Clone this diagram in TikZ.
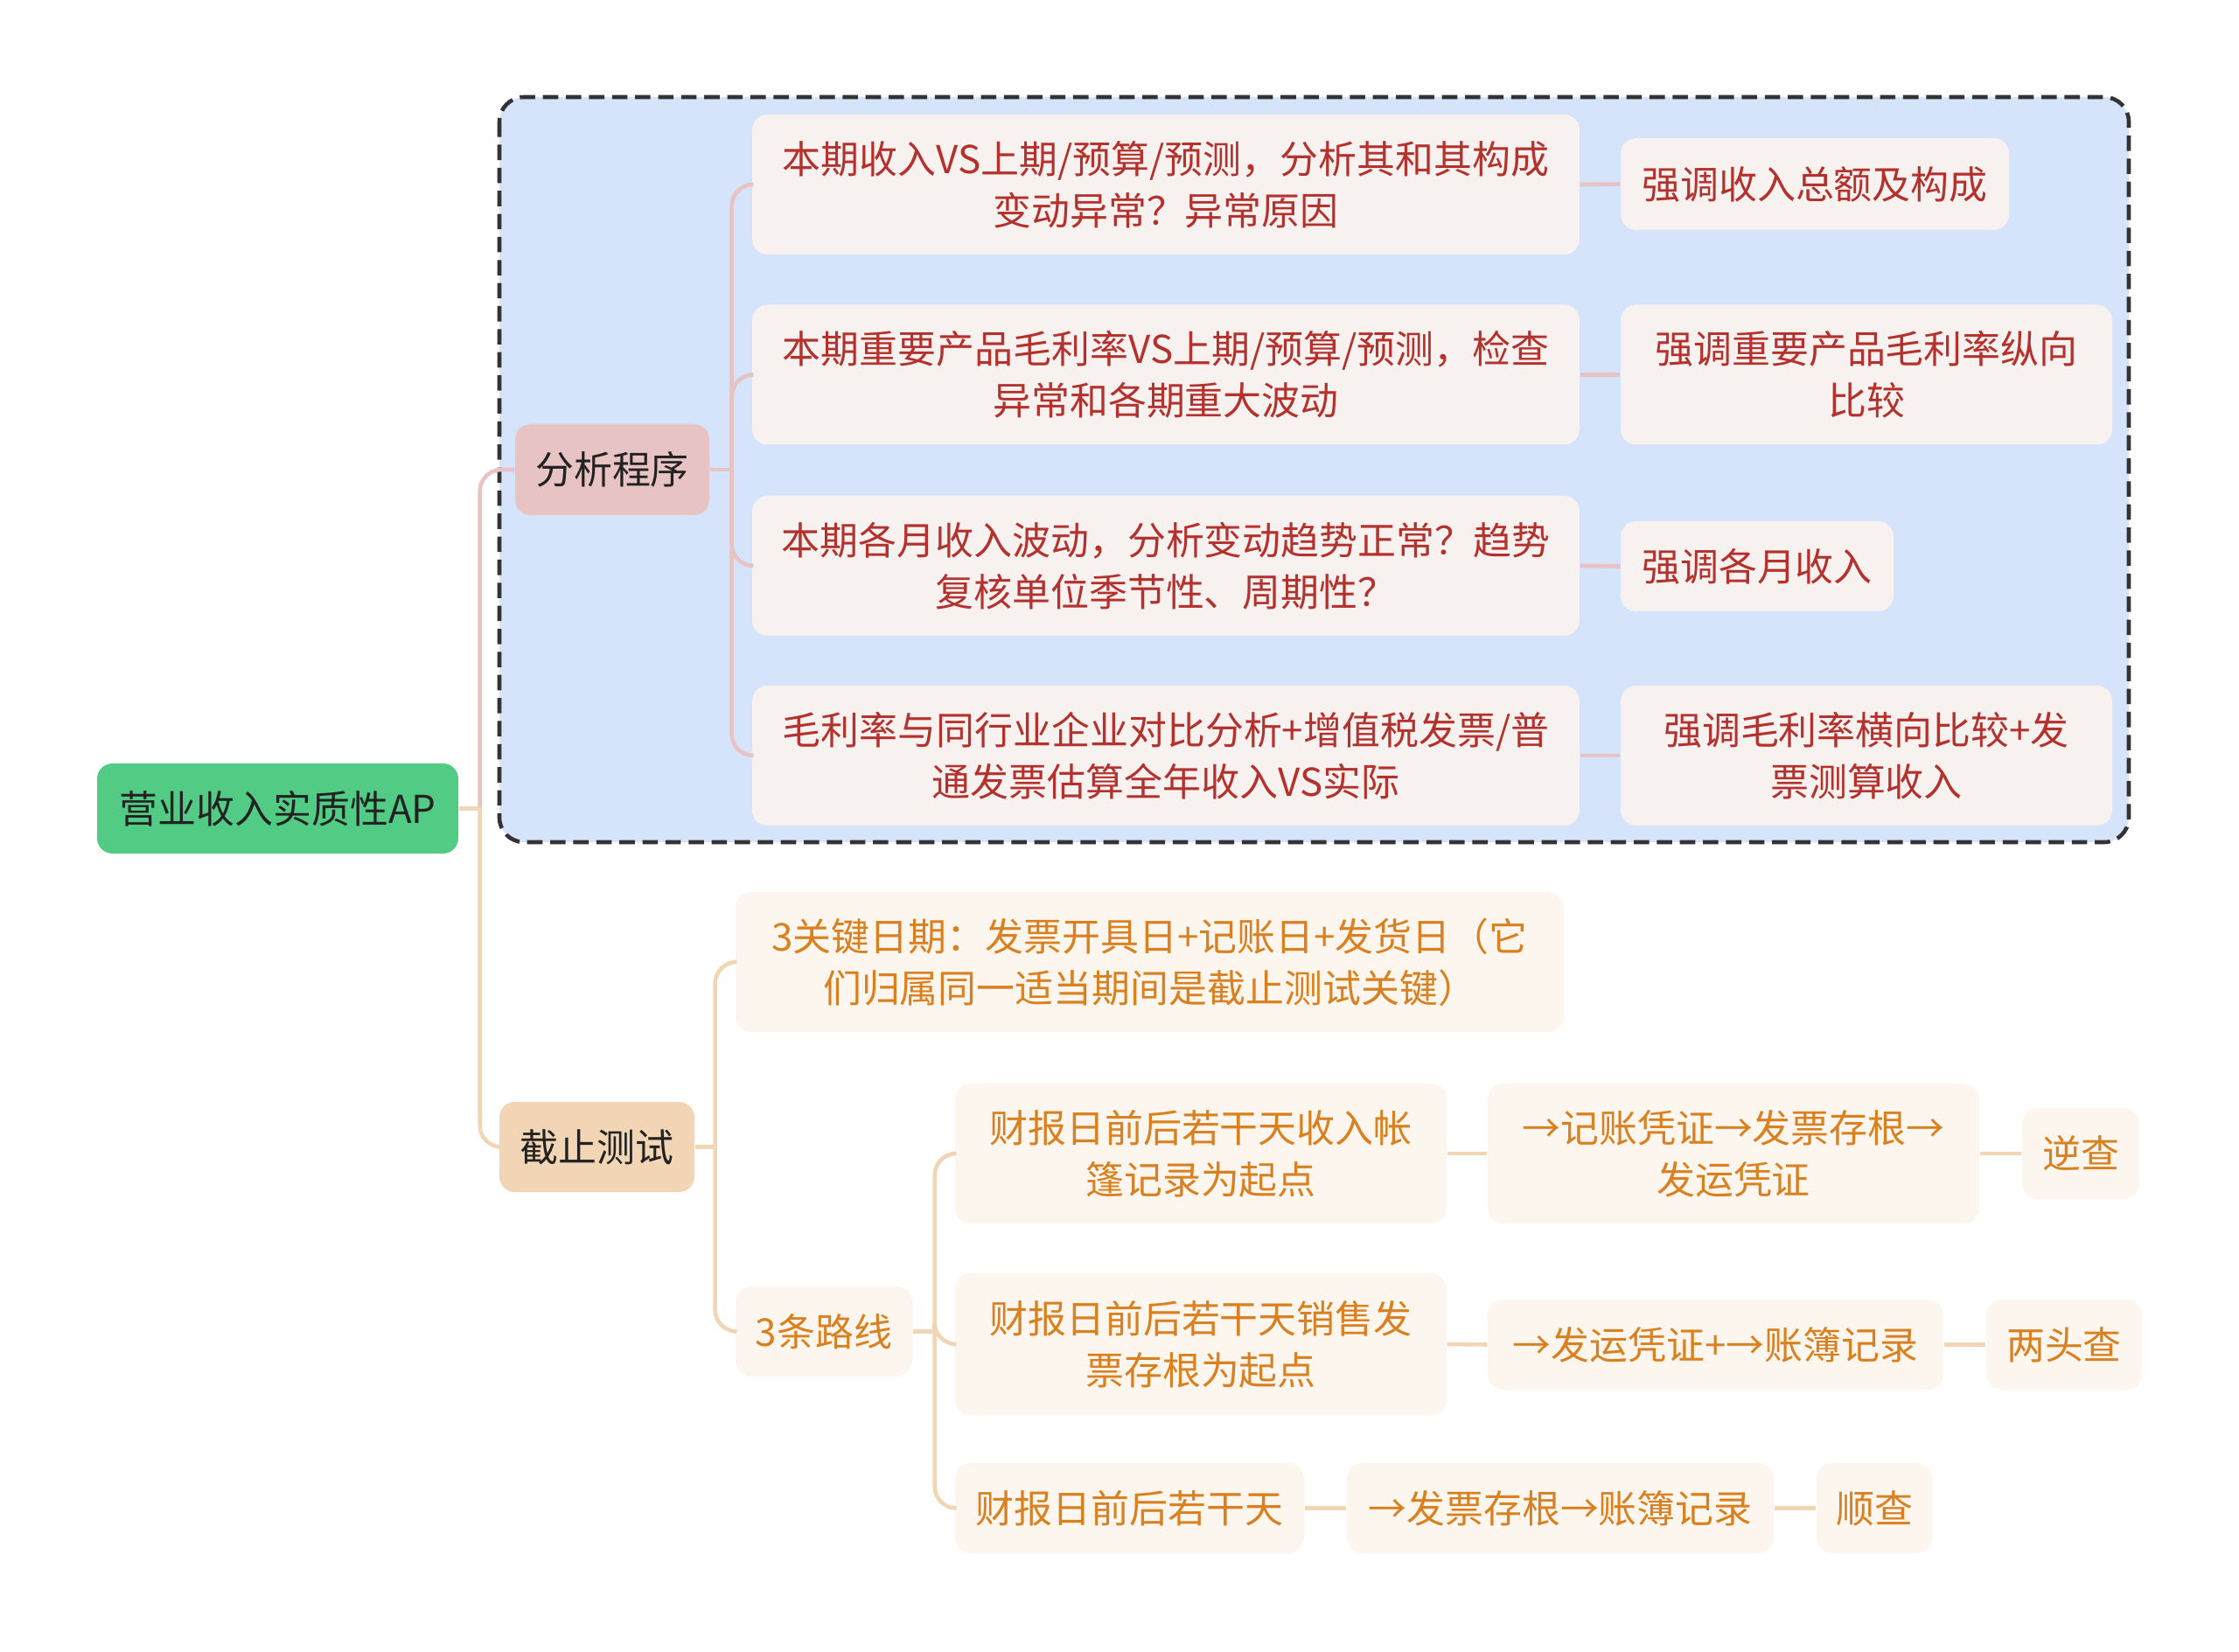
\documentclass[tikz,border=0pt]{standalone}
\usepackage{fontspec}
\usepackage{xcolor}
\usepackage{tikz}
\usetikzlibrary{positioning,calc}
\newfontfamily\cjk{Noto Sans CJK SC}
\definecolor{rootgreen}{HTML}{52CB84}
\definecolor{darktext}{HTML}{222222}
\definecolor{framefill}{HTML}{D5E3FB}
\definecolor{pinkfill}{HTML}{E7C3C3}
\definecolor{redtext}{HTML}{B3322D}
\definecolor{redbg}{HTML}{F7F1F0}
\definecolor{tanfill}{HTML}{F2D5B4}
\definecolor{orangetext}{HTML}{D98020}
\definecolor{orangebg}{HTML}{FDF6EE}

\begin{document}
\begin{tikzpicture}[
    base/.style={rectangle, rounded corners=5pt, inner sep=0pt, align=center, font=\cjk\fontsize{12.5}{16.8}\selectfont},
    rootbox/.style={base, fill=rootgreen, text=darktext},
    topicA/.style={base, fill=pinkfill, text=darktext},
    topicB/.style={base, fill=tanfill, text=darktext},
    redbox/.style={base, fill=redbg, text=redtext},
    orbox/.style={base, fill=orangebg, text=orangetext},
    pinklink/.style={draw=pinkfill, line width=1.3pt, rounded corners=7pt},
    tanlink/.style={draw=tanfill, line width=1.3pt, rounded corners=7pt},
    frame/.style={draw=black!80, dash pattern=on 5pt off 2.5pt, line width=1.3pt, fill=framefill, rounded corners=8pt}
]
\useasboundingbox (0,0) rectangle (25.6,-18.89);

% dashed group
\draw[frame] (5.71,-1.11) rectangle (24.34,-9.63);

\node[rootbox, minimum width=4.13cm, minimum height=1.03cm] (root) at (3.175,-9.245) {营业收入实质性AP};

\node[topicA, minimum width=2.22cm, minimum height=1.04cm] (fx) at (7.00,-5.37) {分析程序};
\node[redbox, minimum width=9.46cm, minimum height=1.6cm] (a1) at (13.33,-2.11) {本期收入VS上期/预算/预测，分析其和其构成\\变动异常？异常原因};
\node[redbox, minimum width=9.46cm, minimum height=1.6cm] (a2) at (13.33,-4.285) {本期重要产品毛利率VS上期/预算/预测，检查\\异常和各期重大波动};
\node[redbox, minimum width=9.46cm, minimum height=1.6cm] (a3) at (13.33,-6.47) {本期各月收入波动，分析变动趋势正常？趋势\\复核单位季节性、周期性？};
\node[redbox, minimum width=9.46cm, minimum height=1.6cm] (a4) at (13.33,-8.64) {毛利率与同行业企业对比分析+增值税发票/普\\通发票估算全年收入VS实际};
\node[redbox, minimum width=4.44cm, minimum height=1.05cm] (b1) at (20.75,-2.105) {强调收入总额及构成};
\node[redbox, minimum width=5.62cm, minimum height=1.6cm] (b2) at (21.34,-4.285) {强调重要产品毛利率纵向\\比较};
\node[redbox, minimum width=3.12cm, minimum height=1.03cm] (b3) at (20.09,-6.475) {强调各月收入};
\node[redbox, minimum width=5.62cm, minimum height=1.6cm] (b4) at (21.34,-8.64) {强调毛利率横向比较+发\\票测算收入};

\node[topicB, minimum width=2.23cm, minimum height=1.03cm] (jz) at (6.825,-13.115) {截止测试};
\node[orbox, minimum width=9.47cm, minimum height=1.6cm] (c1) at (13.145,-11.00) {3关键日期：发票开具日+记账日+发货日（它\\们归属同一适当期间是截止测试关键）};
\node[orbox, minimum width=2.02cm, minimum height=1.03cm] (lx) at (9.42,-15.225) {3条路线};
\node[orbox, minimum width=5.62cm, minimum height=1.6cm] (d1) at (13.73,-13.19) {财报日前后若干天收入帐\\篷记录为起点};
\node[orbox, minimum width=5.62cm, minimum height=1.6cm] (e1) at (19.82,-13.19) {→记账凭证→发票存根→\\发运凭证};
\node[orbox, minimum width=1.34cm, minimum height=1.04cm] (f1) at (23.79,-13.19) {逆查};
\node[orbox, minimum width=5.62cm, minimum height=1.62cm] (d2) at (13.73,-15.37) {财报日前后若干天销售发\\票存根为起点};
\node[orbox, minimum width=5.21cm, minimum height=1.03cm] (e2) at (19.615,-15.375) {→发运凭证+→账簿记录};
\node[orbox, minimum width=1.78cm, minimum height=1.03cm] (f2) at (23.60,-15.375) {两头查};
\node[orbox, minimum width=3.99cm, minimum height=1.03cm] (d3) at (12.915,-17.245) {财报日前后若干天};
\node[orbox, minimum width=4.88cm, minimum height=1.03cm] (e3) at (17.84,-17.245) {→发票存根→账簿记录};
\node[orbox, minimum width=1.32cm, minimum height=1.03cm] (f3) at (21.43,-17.245) {顺查};

% branch points
\coordinate (roott) at ([xshift=0.24cm]root.east);
\coordinate (fxt) at ([xshift=0.25cm]fx.east);
\coordinate (jzt) at ([xshift=0.23cm]jz.east);
\coordinate (lxt) at ([xshift=0.25cm]lx.east);

% branches
\draw[pinklink] (roott) |- (fx.west);
\draw[tanlink] (roott) |- (jz.west);
\draw[tanlink] (root.east) -- (roott);
\draw[pinklink] (fx.east) -- (fxt);
\foreach \n in {a1,a2,a3,a4}
  \draw[pinklink] (fxt) |- (\n.west);
\foreach \a/\b in {a1/b1,a2/b2,a3/b3,a4/b4}
  \draw[pinklink] (\a.east) -- (\b.west);
\draw[tanlink] (jz.east) -- (jzt);
\foreach \n in {c1,lx}
  \draw[tanlink] (jzt) |- (\n.west);
\draw[tanlink] (lx.east) -- (lxt);
\foreach \n in {d1,d2,d3}
  \draw[tanlink] (lxt) |- (\n.west);
\foreach \a/\b in {d1/e1,e1/f1,d2/e2,e2/f2,d3/e3,e3/f3}
  \draw[tanlink] (\a.east) -- (\b.west);

\end{tikzpicture}
\end{document}
